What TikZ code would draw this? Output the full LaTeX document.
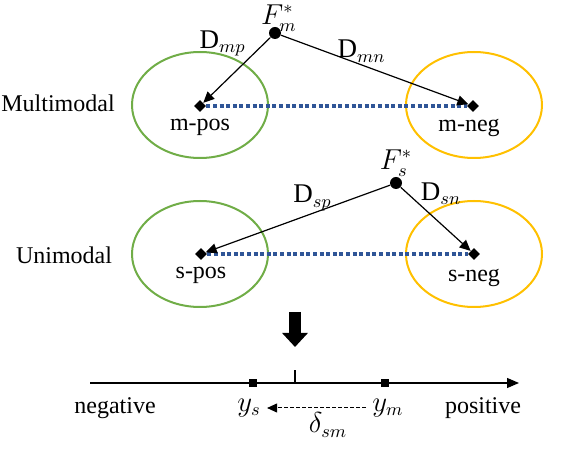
\documentclass[tikz,border=0pt]{standalone}
\usepackage{fontspec}
\setmainfont{Liberation Serif}
\usetikzlibrary{positioning,arrows.meta,shapes.geometric}

\definecolor{grpgreen}{HTML}{70AD47}
\definecolor{grporange}{HTML}{FFC000}
\definecolor{gapblue}{HTML}{2F5597}

\begin{document}
\begin{tikzpicture}[x=0.5pt, y=-0.5pt,
  every node/.style={font=\fontsize{12}{14}\selectfont},
  grp/.style={draw, ellipse, line width=1pt, minimum width=68pt, minimum height=53pt, inner sep=0pt},
  cls/.style={diamond, fill=black, minimum size=6pt, inner sep=0pt},
  fdot/.style={circle, fill=black, minimum size=6pt, inner sep=0pt},
  tickbox/.style={rectangle, fill=black, minimum size=4pt, inner sep=0pt},
  dist/.style={-{Triangle[length=5.5pt, width=5pt]}, line width=0.6pt},
  gap/.style={gapblue, line width=2pt, dash pattern=on 2pt off 1.3pt},
  shiftarr/.style={-{Triangle[length=5pt, width=4.5pt]}, line width=0.5pt, dash pattern=on 2pt off 1pt},
  lab/.style={inner sep=1pt},
  mlab/.style={inner sep=1pt, font=\fontsize{13.5}{15}\selectfont}]
\useasboundingbox (0,0) rectangle (574,470);

% clusters
\node[grp, draw=grpgreen] (mposring) at (200,105) {};
\node[grp, draw=grporange] (mnegring) at (474,105) {};
\node[grp, draw=grpgreen] (sposring) at (200,254) {};
\node[grp, draw=grporange] (snegring) at (474,254) {};

\node (mmlab) at (58,103) {Multimodal};
\node (umlab) at (64,255) {Unimodal};

% centres and anchors
\node[cls] (mpos) at (200,106) {};
\node[cls] (mneg) at (473,106) {};
\node[cls] (spos) at (201,254) {};
\node[cls] (sneg) at (474,254) {};
\node[fdot] (fm) at (275,33) {};
\node[fdot] (fs) at (396,183) {};

\node[lab, below=2pt of mpos] (mposlab) {m-pos};
\node[lab, below=2pt of mneg, xshift=-2pt] (mneglab) {m-neg};
\node[lab, below=2pt of spos] (sposlab) {s-pos};
\node[lab, below=3pt of sneg] (sneglab) {s-neg};
\node[mlab, inner sep=0pt] (fmlab) at (279,18) {$F_m^*$};
\node[mlab, above=-1pt of fs] (fslab) {$F_s^*$};

\draw[gap] (mpos) -- (mneg);
\draw[gap] (spos) -- (sneg);

\draw[dist] (fm) -- node[mlab, pos=0.33, above left] {D$_{mp}$} (mpos);
\draw[dist] (fm) -- node[mlab, pos=0.43, above] {D$_{mn}$} (mneg);
\draw[dist] (fs) -- node[mlab, pos=0.42, above] {D$_{sp}$} (spos);
\draw[dist] (fs) -- node[mlab, pos=0.28, above right, inner sep=0pt] {D$_{sn}$} (sneg);

% output axis
\coordinate (bigtop) at (295,312);
\coordinate (bigtip) at (295,347);
\draw[line width=6pt, -{Triangle[length=7pt, width=12.5pt]}] (bigtop) -- (bigtip);

\coordinate (ax0) at (90,383);
\coordinate (ax1) at (519,383);
\coordinate (axmid) at (295,383);
\draw[line width=0.6pt, -{Triangle[length=6pt, width=5pt]}] (ax0) -- (ax1);
\draw[line width=0.6pt] (axmid) -- ++(0,-13);
\node[tickbox] (ys) at (253,383) {};
\node[tickbox] (ym) at (385,383) {};

\node (neglab) at (115,408) {negative};
\node (poslab) at (483,408) {positive};
\node[mlab, inner sep=3pt] (yslab) at (249,408) {$y_s$};
\node[mlab, inner sep=3pt] (ymlab) at (388,408) {$y_m$};
\draw[shiftarr] (ymlab) -- (yslab);
\node[mlab] (dlab) at (328,425) {$\delta_{sm}$};
\end{tikzpicture}
\end{document}
